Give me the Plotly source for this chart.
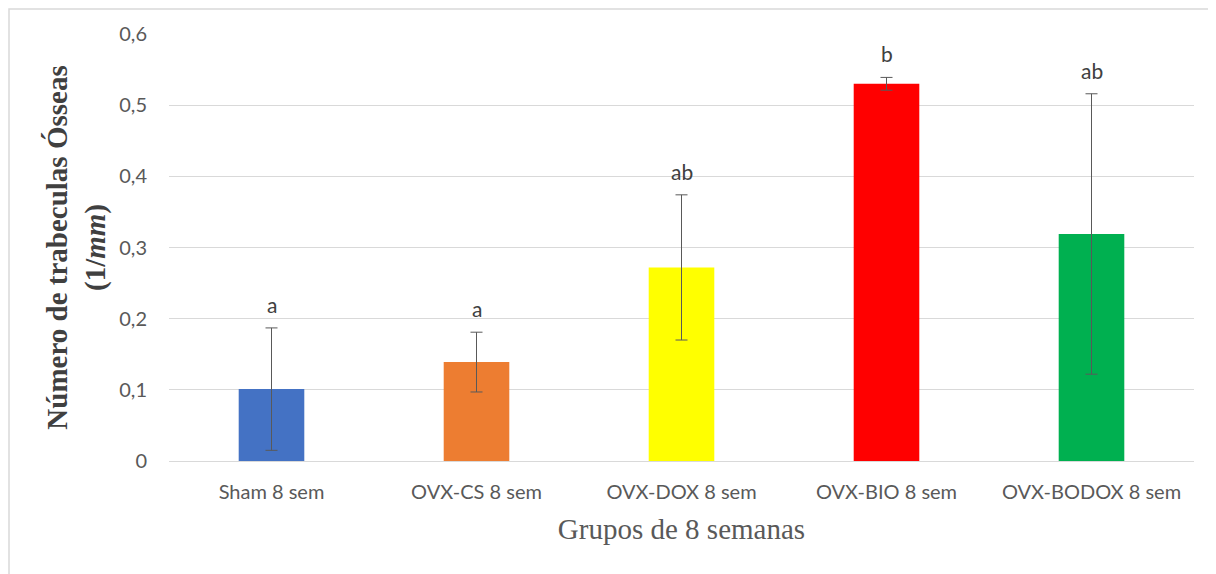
import plotly.graph_objects as go

categories = ["Sham 8 sem", "OVX-CS 8 sem", "OVX-DOX 8 sem", "OVX-BIO 8 sem", "OVX-BODOX 8 sem"]
values = [0.101, 0.139, 0.272, 0.530, 0.319]
errors = [0.086, 0.042, 0.102, 0.009, 0.197]
letters = ["a", "a", "ab", "b", "ab"]
colors = ["#4472C4", "#ED7D31", "#FFFF00", "#FF0000", "#00B050"]
tick_vals = [0, 0.1, 0.2, 0.3, 0.4, 0.5, 0.6]
tick_text = ["0", "0,1", "0,2", "0,3", "0,4", "0,5", "0,6"]

fig = go.Figure()
fig.add_trace(go.Bar(
    x=categories, y=values,
    marker=dict(color=colors, line=dict(width=0)),
    error_y=dict(type="data", array=errors, visible=True, color="#595959", thickness=1, width=6),
    showlegend=False,
))

for c, v, e, t in zip(categories, values, errors, letters):
    fig.add_annotation(x=c, y=v + e, text=t, showarrow=False, yanchor="bottom", yshift=9,
                       font=dict(family="Lato, Open Sans, sans-serif", size=21, color="#404040"))

L, R, T, B = 161, 30, 26, 121
W, H = 1216, 574
pw, ph = W - L - R, H - T - B
# outer chart border (drawn at figure edge)
fig.add_shape(type="rect", xref="paper", yref="paper",
              x0=(1 - L) / pw, x1=1.3, y0=-0.5, y1=(ph + T - 1) / ph,
              line=dict(color="#d9d9d9", width=1.5), fillcolor="rgba(0,0,0,0)", layer="below")

fig.update_layout(
    width=W, height=H,
    margin=dict(l=L, r=R, t=T, b=B),
    paper_bgcolor="white", plot_bgcolor="white",
    bargap=0.68,
    font=dict(family="Lato, Open Sans, sans-serif", size=20, color="#595959"),
    xaxis=dict(
        showgrid=False, showline=False, zeroline=False,
        ticks="outside", ticklen=13, tickcolor="rgba(0,0,0,0)",
        tickfont=dict(size=20, color="#595959"),
        title=dict(text="Grupos de 8 semanas", standoff=16,
                   font=dict(family="Liberation Serif, Times New Roman, serif", size=29, color="#595959")),
    ),
    yaxis=dict(
        range=[0, 0.6], tickvals=tick_vals, ticktext=tick_text,
        showgrid=True, gridcolor="#d9d9d9", gridwidth=1,
        zeroline=True, zerolinecolor="#d9d9d9", zerolinewidth=1,
        ticks="outside", ticklen=17, tickcolor="rgba(0,0,0,0)",
        tickfont=dict(size=20, color="#595959"),
        title=dict(text="<b>Número de trabeculas Ósseas<br>(1/<i>mm</i>)</b>", standoff=5,
                   font=dict(family="Liberation Serif, Times New Roman, serif", size=29, color="#404040")),
    ),
)

fig.write_html("out.html")
